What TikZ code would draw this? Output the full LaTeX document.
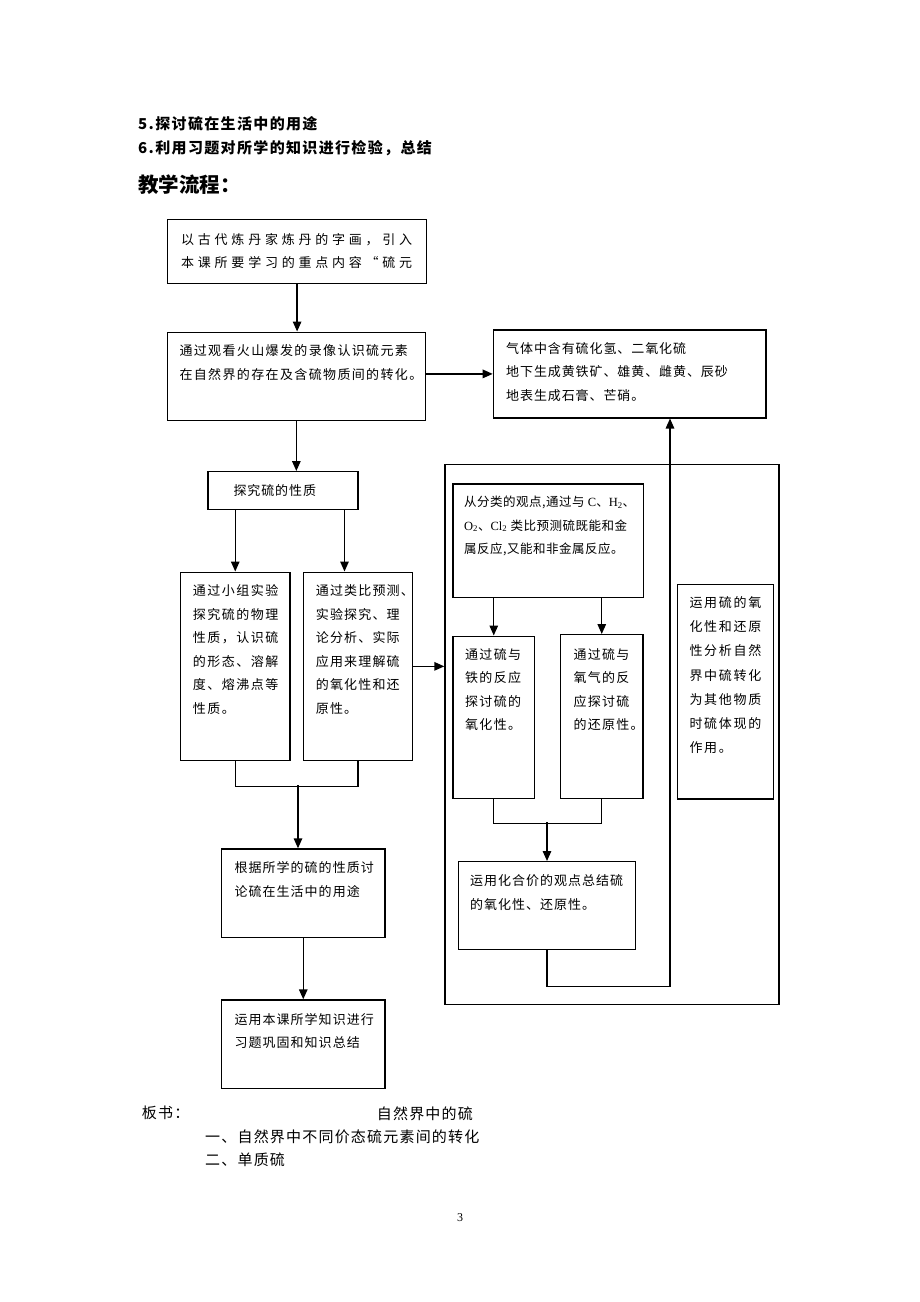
\documentclass[tikz,border=0pt]{standalone}
\usepackage{fontspec}
\usepackage{tikz}
\usetikzlibrary{arrows.meta, positioning, calc}
\newfontfamily\cjk{Noto Sans CJK SC}
\newfontfamily\tms{Liberation Serif}

\tikzset{
	box/.style={draw, line width=1.2pt, anchor=north west, inner sep=0pt},
	txt/.style={anchor=north west, inner sep=0pt, align=left, execute at begin node={\rule{0pt}{12pt}}, font=\cjk\fontsize{13}{23.5}\selectfont\addfontfeatures{LetterSpace=#1}},
	line/.style={anchor=west, inner sep=0pt, font=\cjk\fontsize{15}{18}\selectfont\addfontfeatures{LetterSpace=#1}},
	boldline/.style={anchor=west, inner sep=0pt, font=\cjk\bfseries\fontsize{15}{18}\selectfont\addfontfeatures{LetterSpace=#1}},
	arr/.style={line width=1.4pt, -{Triangle[length=10pt,width=8.5pt]}},
	link/.style={line width=1.4pt}
}

\begin{document}
\begin{tikzpicture}[x=1pt, y=-1pt]
	\useasboundingbox (0,0) rectangle (920,1302);
	\fill[white] (0,0) rectangle (920,1302);
	
	\node[boldline=9] (aim5) at (138,124) {5.探讨硫在生活中的用途};
	\node[boldline=9] (aim6) at (138,148.3) {6.利用习题对所学的知识进行检验，总结};
	\node[anchor=west, inner sep=0pt, font=\cjk\bfseries\fontsize{20.5}{24}\selectfont] (title) at (138,185) {教学流程：};
	
	% left column
	\node[box, minimum width=259, minimum height=64] (intro) at (167,219) {};
	\node[txt=29] (intro-t) at (181,233) {以古代炼丹家炼丹的字画，引入\\本课所要学习的重点内容“硫元};
	
	\node[box, minimum width=258.5, minimum height=88] (volcano) at (166.5,331.5) {};
	\node[txt=10.5] (volcano-t) at (179.3,344.7) {通过观看火山爆发的录像认识硫元素\\在自然界的存在及含硫物质间的转化。};
	
	\node[box, minimum width=272.6, minimum height=88] (gas) at (492.7,329.3) {};
	\node[txt=7] (gas-t) at (506,342.3) {气体中含有硫化氢、二氧化硫\\地下生成黄铁矿、雄黄、雌黄、辰砂\\地表生成石膏、芒硝。};
	
	\node[box, minimum width=150, minimum height=38] (explore) at (207.3,471) {};
	\node[anchor=west, inner sep=0pt, font=\cjk\fontsize{13}{23.5}\selectfont\addfontfeatures{LetterSpace=7}] (explore-t) at (233.3,490.7) {探究硫的性质};
	
	\node[box, minimum width=109.3, minimum height=188.5] (phys) at (180,571.5) {};
	\node[txt=11.5] (phys-t) at (192.7,584.7) {通过小组实验\\探究硫的物理\\性质，认识硫\\的形态、溶解\\度、熔沸点等\\性质。};
	
	\node[box, minimum width=109, minimum height=188.5] (chem) at (302.7,571.5) {};
	\node[txt=9] (chem-t) at (315.7,584.7) {通过类比预测、\\实验探究、理\\论分析、实际\\应用来理解硫\\的氧化性和还\\原性。};
	
	\node[box, minimum width=163.3, minimum height=88.4] (usage) at (221,848.3) {};
	\node[txt=8] (usage-t) at (234.3,861.3) {根据所学的硫的性质讨\\论硫在生活中的用途};
	
	\node[box, minimum width=163.3, minimum height=88.4] (review) at (221,999.3) {};
	\node[txt=8] (review-t) at (234.3,1013) {运用本课所学知识进行\\习题巩固和知识总结};
	
	% right frame
	\node[box, minimum width=334, minimum height=540.5] (frame) at (444.3,463.5) {};
	
	\node[box, minimum width=190.4, minimum height=113.4] (class) at (452.3,483.3) {};
	\node[txt=0, font=\cjk\fontsize{12.5}{23.7}\selectfont\addfontfeatures{LetterSpace=4}] (class-t) at (464,495.7) {从分类的观点,通过与 {\tms C}、{\tms H\textsubscript{2}}、\\{\tms O\textsubscript{2}}、{\tms Cl\textsubscript{2}} 类比预测硫既能和金\\属反应,又能和非金属反应。};
	
	\node[box, minimum width=81.7, minimum height=162.5] (iron) at (452.3,635.5) {};
	\node[txt=10] (iron-t) at (465,648) {通过硫与\\铁的反应\\探讨硫的\\氧化性。};
	
	\node[box, minimum width=82.3, minimum height=164] (oxy) at (560,634) {};
	\node[txt=10] (oxy-t) at (573.3,648) {通过硫与\\氧气的反\\应探讨硫\\的还原性。};
	
	\node[box, minimum width=96, minimum height=214.3] (role) at (676.5,584) {};
	\node[txt=13, font=\cjk\fontsize{13}{24.2}\selectfont\addfontfeatures{LetterSpace=13}] (role-t) at (689.3,596.3) {运用硫的氧\\化性和还原\\性分析自然\\界中硫转化\\为其他物质\\时硫体现的\\作用。};
	
	\node[box, minimum width=177, minimum height=88] (summ) at (458,861) {};
	\node[txt=7.7] (summ-t) at (470,874.7) {运用化合价的观点总结硫\\的氧化性、还原性。};
	
	% connectors
	\draw[arr] (intro.south) -- (intro.south |- volcano.north);
	\draw[arr] (gas.west -| volcano.east) -- (gas.west);
	\draw[arr] (volcano.south) -- (volcano.south |- explore.north);
	\draw[arr] (explore.south -| phys.north) -- (phys.north);
	\draw[arr] ([xshift=-14pt]explore.south east) -- ([xshift=-14pt]explore.south east |- chem.north);
	\draw[link] (phys.south) -- ++(0,25) -| (chem.south);
	\coordinate (join1) at (298,785);
	\draw[arr] (join1) -- (join1 |- usage.north);
	\draw[arr] (usage.south) -- (review.north);
	\draw[arr] (chem.east) -- (chem.east -| frame.west);
	
	\draw[arr] (class.south -| iron.north) -- (iron.north);
	\draw[arr] (class.south -| oxy.north) -- (oxy.north);
	\draw[link] (iron.south) -- ++(0,24) -| (oxy.south);
	\coordinate (join2) at (547,822);
	\draw[arr] (join2) -- (join2 |- summ.north);
	\coordinate (ret) at (670,986.7);
	\draw[arr] (summ.south) |- (ret) -- (ret |- gas.south);
	
	% board notes
	\node[line=8] (board) at (141.7,1113.3) {板书：};
	\node[line=8] (topic) at (376.7,1113.3) {自然界中的硫};
	\node[line=8] (part1) at (205,1136.7) {一、自然界中不同价态硫元素间的转化};
	\node[line=8] (part2) at (205,1160) {二、单质硫};
	\node[inner sep=0pt, font=\tms\fontsize{12}{14}\selectfont] (page) at (460,1218) {3};
\end{tikzpicture}
\end{document}
